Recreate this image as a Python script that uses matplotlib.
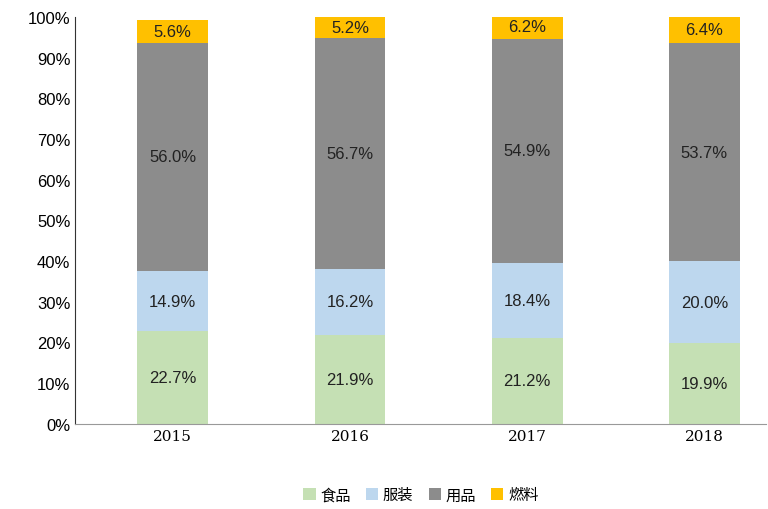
import matplotlib.pyplot as plt
import numpy as np

plt.rcParams['font.family'] = ['Liberation Sans', 'Noto Sans CJK SC', 'DejaVu Sans']

years = ['2015', '2016', '2017', '2018']
food = [22.7, 21.9, 21.2, 19.9]
clothing = [14.9, 16.2, 18.4, 20.0]
goods = [56.0, 56.7, 54.9, 53.7]
fuel = [5.6, 5.2, 6.2, 6.4]

names = ['食品', '服装', '用品', '燃料']
colors = ['#c5e0b4', '#bdd7ee', '#8c8c8c', '#ffc000']

fig = plt.figure(figsize=(7.68, 5.10), dpi=100)
ax = fig.add_axes([0.098, 0.167, 0.9, 0.798])

x = np.arange(len(years))
bottom = np.zeros(len(years))
for vals, name, c in zip([food, clothing, goods, fuel], names, colors):
    ax.bar(x, vals, 0.4, bottom=bottom, color=c, label=name)
    for xi, b, v in zip(x, bottom, vals):
        ax.text(xi, b + v / 2, f'{v:.1f}%', ha='center', va='center', fontsize=12, color='#222222')
    bottom += vals

ax.set_xlim(-0.55, 3.35)
ax.set_ylim(0, 100)
ax.set_yticks(range(0, 101, 10))
ax.set_yticklabels([f'{v}%' for v in range(0, 101, 10)], fontsize=12)
ax.set_xticks(x)
ax.set_xticklabels(years, fontsize=11, family='serif')
ax.tick_params(length=0)
for s in ['top', 'right']:
    ax.spines[s].set_visible(False)
ax.spines['left'].set_color('#333333')
ax.spines['bottom'].set_color('#999999')

ax.legend(loc='upper center', bbox_to_anchor=(0.5, -0.12), ncol=4, frameon=False,
          prop={'family': ['Noto Sans CJK SC'], 'size': 11},
          handlelength=0.8, handleheight=0.8, columnspacing=1.0, handletextpad=0.3)

fig.savefig('out.png', dpi=100)
